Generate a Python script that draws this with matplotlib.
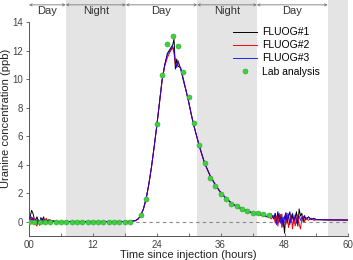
import matplotlib
matplotlib.use('Agg')
import matplotlib.pyplot as plt
from matplotlib.ticker import MultipleLocator, FixedLocator

plt.rcParams['font.family'] = ['Liberation Sans', 'DejaVu Sans']

# sampling times of the fluorometers (hours)
hours = [0.0, 0.25, 0.5, 0.75, 1.0, 1.25, 1.5, 1.75, 2.0, 2.25, 2.5, 2.75, 3.0, 3.25, 3.5, 3.75, 4.0, 4.5, 5.0, 5.5,
         6, 8, 10, 12, 14, 16, 18, 19, 20,
         20.5, 21, 21.5, 22, 22.5, 23, 23.5, 24, 24.5, 25, 25.5, 26, 26.5, 27, 27.25, 27.5, 27.75, 28,
         28.5, 29, 29.5, 30, 30.5, 31, 31.5, 32,
         33, 34, 35, 36, 37, 38, 39, 40, 41, 42, 43, 44,
         44.5, 45, 45.5, 46, 46.25, 46.5, 46.75, 47, 47.25, 47.5, 47.75, 48, 48.25, 48.5, 48.75, 49,
         49.25, 49.5, 49.75, 50, 50.25, 50.5, 50.75, 51, 51.25, 51.5, 51.75, 52, 52.5, 53, 53.5, 54,
         55, 56, 58, 60]

# FLUOG#1 (black)
early_1 = [0.1, 0.4, 0.8, 0.6, 0.2, 0.1, 0.35, 0.05, -0.1, 0.3, 0.1, 0.35, -0.05, 0.2, 0.05, 0.15, 0.0, 0.08, 0.02, 0.02]
mid_1 = [0.02, 0.02, 0.02, 0.02, 0.02, 0.02, 0.02, 0.03, 0.08,
         0.2, 0.45, 0.9, 1.6, 2.6, 3.8, 5.2, 6.7, 8.3, 9.9, 11.0, 11.8, 12.1, 12.4, 12.8, 10.7, 11.4, 10.9,
         10.8, 9.9, 9.2, 8.4, 7.5, 6.7, 6.0, 5.3,
         4.1, 3.25, 2.6, 2.05, 1.65, 1.32, 1.08, 0.9, 0.75, 0.63, 0.53, 0.45]
late_1 = [0.4, 0.35, 0.5, 0.2, 0.6, 0.1, 0.7, 0.0, 0.5, -0.2, 0.3, -0.8, 0.6, -0.1, 0.4, 0.7,
          0.0, 0.5, -0.1, 0.3, 0.7, -0.3, 0.9, 0.4, 0.6, 0.0, 0.4, 0.2, 0.35, 0.15, 0.25, 0.15,
          0.14, 0.13, 0.13, 0.12]

# FLUOG#2 (red)
early_2 = [0.3, 0.1, 0.35, 0.05, 0.25, -0.15, -0.3, 0.1, -0.25, 0.15, -0.1, 0.2, 0.05, 0.25, -0.05, 0.1, 0.15, 0.0, 0.05, 0.02]
mid_2 = [0.02, 0.02, 0.02, 0.02, 0.02, 0.02, 0.02, 0.03, 0.08,
         0.2, 0.45, 0.9, 1.6, 2.6, 3.8, 5.2, 6.7, 8.3, 9.9, 10.9, 11.5, 11.9, 12.2, 11.8, 11.0, 10.9, 11.2,
         10.7, 10.0, 9.2, 8.4, 7.5, 6.7, 6.0, 5.3,
         4.1, 3.25, 2.6, 2.05, 1.65, 1.32, 1.08, 0.9, 0.75, 0.63, 0.53, 0.45]
late_2 = [0.35, 0.4, 0.2, 0.45, -0.1, 0.4, -0.3, 0.3, 0.5, -0.4, 0.1, 0.4, -0.2, 0.6, -0.4, 0.1,
          0.5, -0.5, 0.3, -0.3, 0.2, 0.5, -0.2, -0.5, 0.2, 0.4, 0.0, 0.3, 0.1, 0.25, 0.1, 0.15,
          0.15, 0.13, 0.13, 0.12]

# FLUOG#3 (blue)
early_3 = [0.25, 0.35, 0.1, 0.3, 0.0, 0.2, -0.1, 0.15, 0.05, -0.15, 0.2, -0.05, 0.15, 0.0, 0.1, -0.05, 0.05, 0.03, 0.02, 0.02]
mid_3 = [0.02, 0.02, 0.02, 0.02, 0.02, 0.02, 0.02, 0.03, 0.08,
         0.2, 0.45, 0.9, 1.6, 2.6, 3.8, 5.2, 6.7, 8.3, 9.9, 11.0, 11.7, 12.0, 12.3, 12.0, 11.2, 10.8, 11.3,
         10.7, 10.0, 9.2, 8.4, 7.5, 6.7, 6.0, 5.3,
         4.1, 3.25, 2.6, 2.05, 1.65, 1.32, 1.08, 0.9, 0.75, 0.63, 0.53, 0.45]
late_3 = [0.4, 0.3, 0.55, 0.25, 0.55, -0.2, 0.4, 0.6, -0.1, 0.55, -0.35, 0.3, 0.65, 0.0, 0.55, -0.2,
          0.3, 0.6, 0.1, 0.5, -0.1, 0.3, 0.4, 0.1, 0.35, 0.2, 0.45, 0.15, 0.3, 0.2, 0.2, 0.15,
          0.15, 0.14, 0.13, 0.13]

fluog_1 = early_1 + mid_1 + late_1
fluog_2 = early_2 + mid_2 + late_2
fluog_3 = early_3 + mid_3 + late_3

# lab analysis (grab samples)
lab_hours = [0, 1, 2, 3, 4, 5, 6, 7, 8, 9, 10, 11, 12, 13, 14, 15, 16, 17, 18, 19,
             21, 22, 24, 25, 26, 27, 28, 29, 30, 31, 32, 33, 34, 35, 36, 37, 38, 39, 40,
             41, 42, 43, 44, 45]
lab_values = [0, 0, 0, 0, 0, 0, 0, 0, 0, 0, 0, 0, 0, 0, 0, 0, 0, 0, 0, 0,
              0.45, 1.6, 6.85, 10.26, 12.46, 13.04, 12.34, 10.5, 8.71, 6.92, 5.35, 4.13, 3.05, 2.54, 1.92,
              1.6, 1.27, 1.08, 0.89, 0.77, 0.65, 0.61, 0.54, 0.47]

# day / night periods
night_spans = [(6.9, 18.2), (31.6, 42.8), (56.1, 62)]
period_edges = [0, 6.9, 18.2, 31.6, 42.8, 56.1]
period_names = ['Day', 'Night', 'Day', 'Night', 'Day']

fig = plt.figure(figsize=(3.53, 2.60), dpi=100)
ax = fig.add_axes([0.082, 0.092, 0.905, 0.908])

for x0, x1 in night_spans:
    ax.axvspan(x0, x1, color='#e4e4e4', lw=0, zorder=0)

ax.axhline(y=0, color='#888888', linewidth=0.8, linestyle=(0, (3, 3)), zorder=1)

ax.plot(hours, fluog_1, color='black', linewidth=0.7, label='FLUOG#1', zorder=2)
ax.plot(hours, fluog_2, color='red', linewidth=0.7, label='FLUOG#2', zorder=3)
ax.plot(hours, fluog_3, color='blue', linewidth=0.7, alpha=0.85, label='FLUOG#3', zorder=4)
ax.plot(lab_hours, lab_values, linestyle='none', marker='o', markersize=3.6,
        markerfacecolor='#40d040', markeredgecolor='#2aa82a', markeredgewidth=0.4,
        label='Lab analysis', zorder=5)

# arrows and labels for the periods
for index, name in enumerate(period_names):
    x0 = period_edges[index]
    x1 = period_edges[index + 1]
    ax.annotate('', xy=(x1, 15.2), xytext=(x0, 15.2),
                arrowprops=dict(arrowstyle='<->', color='#777777', lw=0.6,
                                shrinkA=0, shrinkB=0, mutation_scale=4))
    ax.text((x0 + x1) / 2, 14.75, name, ha='center', va='center', fontsize=8, color='#333333')

ax.set_xlim(0, 60)
ax.set_ylim(-1, 15.54)
ax.spines['top'].set_visible(False)
ax.spines['right'].set_visible(False)
ax.spines['left'].set_bounds(-1, 14)
for side in ['left', 'bottom']:
    ax.spines[side].set_linewidth(0.7)
    ax.spines[side].set_color('#555555')

ax.xaxis.set_major_locator(FixedLocator([0, 12, 24, 36, 48, 60]))
ax.set_xticklabels(['00', '12', '24', '36', '48', '60'])
ax.xaxis.set_minor_locator(MultipleLocator(6))
ax.yaxis.set_major_locator(FixedLocator([0, 2, 4, 6, 8, 10, 12, 14]))
ax.tick_params(axis='x', which='both', direction='in', length=2.5, width=0.6, labelsize=7,
               color='#555555', labelcolor='#444444', pad=3)
ax.tick_params(axis='y', direction='out', length=2.5, width=0.6, labelsize=7,
               color='#555555', labelcolor='#444444', pad=2)

ax.set_xlabel('Time since injection (hours)', fontsize=8, color='#222222', labelpad=0)
ax.set_ylabel('Uranine concentration (ppb)', fontsize=8, color='#222222', labelpad=1)

ax.legend(loc='upper left', bbox_to_anchor=(0.6375, 0.885), frameon=False, fontsize=7.5,
          borderpad=0, borderaxespad=0, handlelength=2.3, handletextpad=0.5, labelspacing=0.3)

fig.savefig('out.png', dpi=100)
